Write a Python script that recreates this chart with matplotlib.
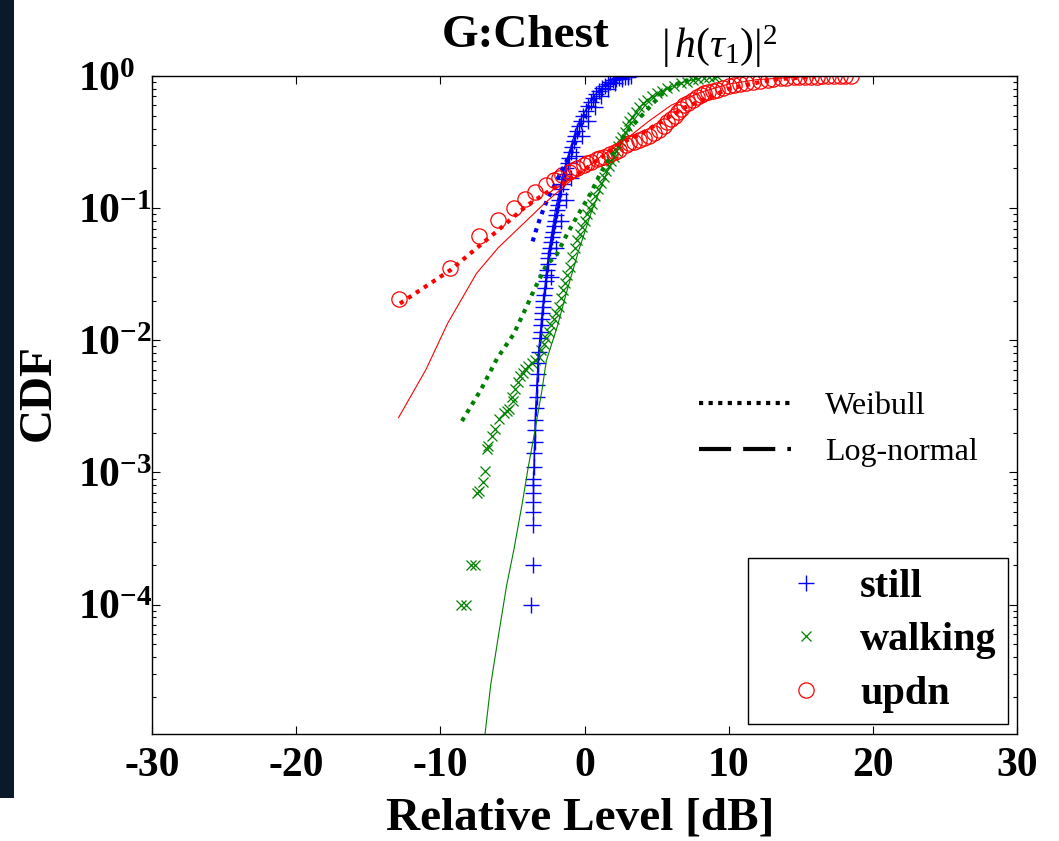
import numpy as np
import matplotlib
matplotlib.use('Agg')
import matplotlib.pyplot as plt
from matplotlib.lines import Line2D
from matplotlib.patches import Rectangle
from matplotlib.ticker import FixedLocator, LogLocator, FuncFormatter, NullFormatter

plt.rcParams['font.family'] = ['Liberation Serif', 'DejaVu Serif']
plt.rcParams['mathtext.fontset'] = 'custom'
plt.rcParams['mathtext.rm'] = 'Liberation Serif'
plt.rcParams['mathtext.it'] = 'Liberation Serif:italic'
plt.rcParams['mathtext.bf'] = 'Liberation Serif:bold'
plt.rcParams['axes.unicode_minus'] = False

# --- still (blue +) : measured CDF
still_x = [-3.70, -3.58, -3.60, -3.60, -3.60, -3.60, -3.58, -3.55, -3.52, -3.48,
           -3.45, -3.45, -3.42, -3.35, -3.30, -3.30, -3.25, -3.20, -3.18, -3.10,
           -3.05, -3.00, -2.98, -2.92, -2.88, -2.85, -2.80, -2.75, -2.70, -2.65,
           -2.60, -2.55, -2.50, -2.45, -2.40, -2.35, -2.35, -2.28, -2.20, -2.12,
           -2.05, -2.00, -1.98, -1.90, -1.82, -1.75, -1.68, -1.60, -1.60, -1.52,
           -1.45, -1.35, -1.30, -1.25, -1.15, -1.05, -0.95, -0.95, -0.85, -0.75,
           -0.65, -0.60, -0.52, -0.40, -0.25, -0.20, -0.10, 0.08, 0.25, 0.25,
           0.42, 0.60, 0.70, 0.80, 1.00, 1.15, 1.20, 1.40, 1.60, 1.60,
           1.80, 2.00, 2.10, 2.20, 2.40, 2.60, 2.60, 2.80, 3.00, 3.00, 3.20]
still_y = [1.0e-4, 2.0e-4, 4.0e-4, 5.0e-4, 6.0e-4, 7.0e-4, 8.0e-4, 9.0e-4, 1.1e-3, 1.4e-3,
           1.7e-3, 2.1e-3, 2.5e-3, 3.1e-3, 3.7e-3, 4.6e-3, 5.6e-3, 6.7e-3, 8.2e-3, 0.0105,
           0.0115, 0.013, 0.0145, 0.016, 0.018, 0.020, 0.022, 0.025, 0.028, 0.031,
           0.034, 0.038, 0.042, 0.046, 0.050, 0.030, 0.055, 0.060, 0.066, 0.073,
           0.080, 0.050, 0.088, 0.097, 0.105, 0.115, 0.127, 0.080, 0.14, 0.152,
           0.165, 0.18, 0.115, 0.20, 0.22, 0.24, 0.265, 0.17, 0.29, 0.32,
           0.35, 0.25, 0.385, 0.42, 0.46, 0.35, 0.50, 0.545, 0.59, 0.46,
           0.635, 0.68, 0.58, 0.725, 0.77, 0.70, 0.805, 0.84, 0.87, 0.80,
           0.90, 0.925, 0.88, 0.95, 0.965, 0.98, 0.95, 0.99, 0.995, 0.98, 1.0]

# --- walking (green x)
walk_x = [-8.56, -8.19, -7.87, -7.57, -7.45, -7.35, -7.06, -6.92, -6.76, -6.66,
          -6.41, -6.18, -5.95, -5.60, -5.40, -5.25, -5.00, -4.95, -4.80, -4.60,
          -4.44, -4.30, -4.10, -3.90, -3.63, -3.40, -3.17, -3.00, -2.83, -2.65,
          -2.48, -2.30, -2.13, -1.95, -1.78, -1.65, -1.50, -1.35, -1.20, -1.00,
          -0.85, -0.68, -0.50, -0.33, -0.16, 0.02, 0.20, 0.37, 0.53, 0.75,
          0.95, 1.15, 1.34, 1.52, 1.70, 1.87, 2.03, 2.20, 2.35, 2.48,
          2.60, 2.78, 2.95, 3.12, 3.30, 3.55, 3.80, 4.07, 4.35, 4.65,
          5.00, 5.35, 5.74, 6.20, 6.67, 7.10, 7.50, 7.90, 8.30, 8.65, 9.00, 9.20]
walk_y = [1e-4, 1e-4, 2e-4, 2e-4, 7e-4, 7.3e-4, 8.4e-4, 1.03e-3, 1.5e-3, 1.6e-3,
          1.9e-3, 2.15e-3, 2.55e-3, 2.8e-3, 2.9e-3, 3.0e-3, 3.7e-3, 3.5e-3, 4.3e-3, 4.8e-3,
          5.4e-3, 5.7e-3, 6.1e-3, 6.4e-3, 6.7e-3, 7.1e-3, 7.5e-3, 8.4e-3, 9.4e-3, 0.0105,
          0.0116, 0.013, 0.0146, 0.016, 0.0179, 0.021, 0.024, 0.027, 0.031, 0.036,
          0.043, 0.050, 0.057, 0.064, 0.072, 0.080, 0.090, 0.098, 0.108, 0.123,
          0.14, 0.155, 0.173, 0.19, 0.21, 0.227, 0.245, 0.27, 0.295, 0.32,
          0.347, 0.38, 0.42, 0.455, 0.49, 0.535, 0.58, 0.62, 0.66, 0.70,
          0.74, 0.775, 0.81, 0.845, 0.88, 0.905, 0.93, 0.95, 0.97, 0.98, 0.99, 1.0]

# --- updn (red o)
updn_x = [-12.9, -9.3, -7.35, -6.0, -4.9, -4.1, -3.4, -2.7, -2.13, -1.8,
          -1.55, -1.09, -0.8, -0.51, -0.05, 0.2, 0.42, 0.88, 1.1, 1.34,
          1.80, 2.1, 2.38, 2.85, 3.1, 3.42, 3.8, 4.12, 4.5, 4.81,
          5.2, 5.5, 5.75, 6.0, 6.25, 6.5, 6.7, 6.9, 7.2, 7.5,
          7.8, 8.06, 8.3, 8.6, 8.9, 9.2, 9.6, 10.0, 10.4, 10.8,
          11.2, 11.7, 12.2, 12.7, 13.1, 13.6, 14.0, 14.5, 14.9, 15.3,
          15.7, 16.1, 16.5, 16.9, 17.3, 17.7, 18.1, 18.5]
updn_y = [0.0204, 0.035, 0.062, 0.081, 0.100, 0.118, 0.133, 0.150, 0.163, 0.17,
          0.178, 0.188, 0.194, 0.200, 0.212, 0.218, 0.224, 0.234, 0.24, 0.245,
          0.255, 0.265, 0.275, 0.300, 0.31, 0.318, 0.328, 0.337, 0.35, 0.368,
          0.39, 0.42, 0.445, 0.47, 0.50, 0.53, 0.565, 0.60, 0.63, 0.66,
          0.69, 0.72, 0.74, 0.76, 0.775, 0.79, 0.815, 0.835, 0.855, 0.87,
          0.885, 0.90, 0.915, 0.93, 0.945, 0.96, 0.97, 0.975, 0.98, 0.985,
          0.988, 0.99, 0.993, 0.995, 0.997, 0.998, 0.999, 1.0]

# --- Weibull fits (dotted)
wb_still_x = [-3.6, -3.4, -3.05, -2.6, -2.0, -1.4, -0.7, -0.15, 0.3, 0.9, 1.6, 2.4]
wb_still_y = [0.056, 0.066, 0.086, 0.115, 0.155, 0.21, 0.30, 0.46, 0.585, 0.74, 0.88, 0.97]
wb_walk_x = [-8.5, -7.2, -6.06, -4.9, -3.98, -3.5, -2.6, -2.0, -1.2, -0.4, 0.42, 1.1, 1.8, 2.5,
             2.96, 4.1, 5.3, 6.5, 7.8]
wb_walk_y = [2.45e-3, 4.2e-3, 7.3e-3, 0.0112, 0.0184, 0.024, 0.038, 0.043, 0.064, 0.091, 0.129,
             0.183, 0.245, 0.318, 0.38, 0.52, 0.72, 0.88, 0.97]
wb_updn_x = [-12.8, -9.3, -6.0, -3.98, -2.36, -1.2, -0.05, 2.5, 4.0, 7.0, 10.0, 13.0, 16.0]
wb_updn_y = [0.019, 0.034, 0.068, 0.105, 0.137, 0.163, 0.194, 0.31, 0.37, 0.58, 0.80, 0.94, 0.99]

# --- Log-normal fits (thin solid)
ln_still_x = [-3.55, -3.4, -3.2, -2.9, -2.5, -2.0, -1.3, -0.5, 0.5, 1.5, 2.5]
ln_still_y = [8e-4, 3e-3, 8e-3, 0.018, 0.045, 0.10, 0.22, 0.42, 0.68, 0.88, 0.97]
ln_walk_x = [-6.9, -6.5, -5.95, -5.4, -4.9, -4.3, -3.9, -3.5, -2.95, -2.65, -1.9, -1.2, -0.4,
             0.5, 1.4, 2.3, 3.2, 4.2, 5.3, 6.5, 8.0]
ln_walk_y = [1.05e-5, 2.5e-5, 6e-5, 1.4e-4, 2.6e-4, 6e-4, 1.1e-3, 1.9e-3, 4.2e-3, 7e-3, 0.0126,
             0.024, 0.048, 0.095, 0.17, 0.28, 0.43, 0.60, 0.76, 0.88, 0.96]
ln_updn_x = [-12.9, -11.0, -9.5, -7.5, -6.0, -2.8, -1.0, 1.0, 3.0, 4.4, 6.0, 8.0, 10.0, 12.0, 15.0, 18.0]
ln_updn_y = [2.6e-3, 6e-3, 0.0134, 0.032, 0.05, 0.108, 0.16, 0.24, 0.34, 0.45, 0.60, 0.75, 0.87,
             0.94, 0.985, 0.998]

x_ticks = [-30, -20, -10, 0, 10, 20, 30]
y_ticks = [1e-4, 1e-3, 1e-2, 1e-1, 1]

W, H = 1059, 841
fig = plt.figure(figsize=(W / 100, H / 100), dpi=100)
fig.patches.append(Rectangle((0, 1 - 798 / H), 14 / W, 798 / H, transform=fig.transFigure,
                             facecolor='#0b1a2a', edgecolor='none'))
ax = fig.add_axes([152 / W, 1 - 734 / H, 865 / W, 658 / H])

BLUE, GREEN, RED = '#0000ff', '#008000', '#ff0000'

h1, = ax.plot(still_x, still_y, ls='none', marker='+', ms=11, mew=1.0, color=BLUE, label='still')
h2, = ax.plot(walk_x, walk_y, ls='none', marker='x', ms=7, mew=0.9, color=GREEN, label='walking')
h3, = ax.plot(updn_x, updn_y, ls='none', marker='o', ms=11, mew=0.9, mfc='none', color=RED, label='updn')

dot = (0, (1, 1.3))
ax.plot(wb_still_x, wb_still_y, color=BLUE, lw=3, ls=dot)
ax.plot(wb_walk_x, wb_walk_y, color=GREEN, lw=3, ls=dot)
ax.plot(wb_updn_x, wb_updn_y, color=RED, lw=3, ls=dot)
ax.plot(ln_still_x, ln_still_y, color=BLUE, lw=0.8)
ax.plot(ln_walk_x, ln_walk_y, color=GREEN, lw=0.8)
ax.plot(ln_updn_x, ln_updn_y, color=RED, lw=0.8)

ax.set_yscale('log')
ax.set_xlim(-30, 30)
ax.set_ylim(1.05e-5, 1)
ax.set_xticks(x_ticks)
ax.yaxis.set_major_locator(FixedLocator(y_ticks))
ax.yaxis.set_minor_locator(LogLocator(base=10, subs=np.arange(2, 10), numticks=10))
ax.yaxis.set_minor_formatter(NullFormatter())
ax.yaxis.set_major_formatter(FuncFormatter(lambda v, p: r'$\mathbf{10^{%d}}$' % int(round(np.log10(v)))))
ax.tick_params(axis='both', which='both', direction='in', top=True, right=True, width=0.8)
ax.tick_params(axis='both', which='major', length=6, labelsize=30)
ax.tick_params(axis='x', pad=9)
ax.tick_params(axis='y', pad=53)
ax.tick_params(axis='both', which='minor', length=3)
plt.setp(ax.get_xticklabels(), fontweight='bold')
plt.setp(ax.get_yticklabels(), ha='left')
for s in ax.spines.values():
    s.set_linewidth(1.0)

leg1 = ax.legend(handles=[h1, h2, h3], loc='lower right', bbox_to_anchor=(0.9896, 0.0152),
                 borderaxespad=0, fancybox=False, edgecolor='black', framealpha=1,
                 prop=dict(weight='bold', size=29), borderpad=0.28, handlelength=2.3,
                 handletextpad=0.2, labelspacing=0.4, numpoints=1)
leg1.get_frame().set_linewidth(1.0)
ax.add_artist(leg1)

fit_handles = [Line2D([], [], color='k', lw=3, ls=dot),
               Line2D([], [], color='k', lw=3, ls=(0, (7.7, 2.9)))]
ax.legend(fit_handles, ['Weibull', 'Log-normal'], loc='upper left', bbox_to_anchor=(0.632, 0.5205),
          borderaxespad=0, borderpad=0, frameon=False, prop=dict(size=23),
          handlelength=2.9, handletextpad=1.05, labelspacing=0.52)

fig.text(442 / W, 1 - 47 / H, 'G:Chest', fontsize=34, fontweight='bold', ha='left', va='baseline')
fig.text(661 / W, 1 - 58 / H, r'$\left|\,h(\tau_1)\right|^2$', fontsize=30, ha='left', va='baseline')
fig.text(580 / W, 1 - 830 / H, 'Relative Level [dB]', fontsize=34, fontweight='bold',
         ha='center', va='baseline')
fig.text(39 / W, 1 - 393 / H, 'CDF', fontsize=34, fontweight='bold', rotation=90,
         ha='center', va='center')

fig.savefig('out.png', dpi=100)
